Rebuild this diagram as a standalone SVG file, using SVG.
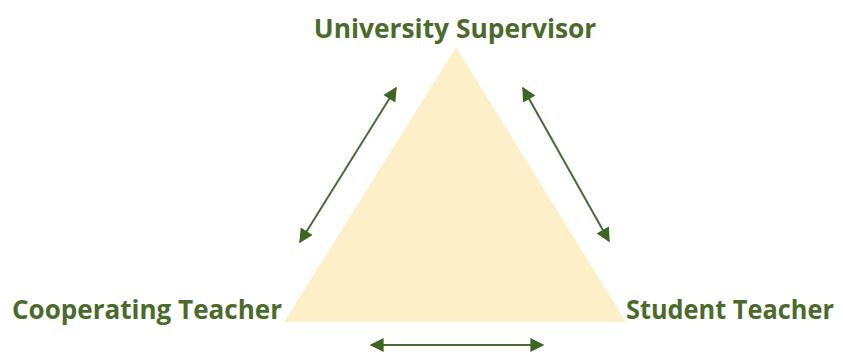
<svg xmlns="http://www.w3.org/2000/svg" width="843" height="352" viewBox="0 0 843 352">
<defs>
<style>
.lbl{font-family:"Open Sans","Liberation Sans",sans-serif;font-weight:bold;font-size:27px;fill:#4b6b2c}
.conn line{stroke:#4a6a35;stroke-width:2;marker-start:url(#ah);marker-end:url(#ah)}
</style>
<marker id="ah" viewBox="0 0 10 10" refX="9" refY="5" markerWidth="7.5" markerHeight="7" orient="auto-start-reverse" markerUnits="strokeWidth">
<path d="M0,0 L10,5 L0,10 z" fill="#3d6623"/>
</marker>
</defs>
<rect width="843" height="352" fill="#ffffff"/>
<g id="triangle"><polygon points="456,47 284,322 626,322" fill="#fdefc8"/></g>
<g id="university-supervisor"><text class="lbl" transform="translate(455 38) scale(0.9 1)" text-anchor="middle" textLength="314" lengthAdjust="spacingAndGlyphs">University Supervisor</text></g>
<g id="cooperating-teacher"><text class="lbl" transform="translate(12 319) scale(0.9 1)" textLength="300" lengthAdjust="spacingAndGlyphs">Cooperating Teacher</text></g>
<g id="student-teacher"><text class="lbl" transform="translate(626 319) scale(0.9 1)" textLength="231" lengthAdjust="spacingAndGlyphs">Student Teacher</text></g>
<g id="connectors" class="conn">
<line x1="300" y1="242" x2="396" y2="88"/>
<line x1="523" y1="88" x2="609" y2="241"/>
<line x1="371" y1="345" x2="543" y2="345"/>
</g>
</svg>
